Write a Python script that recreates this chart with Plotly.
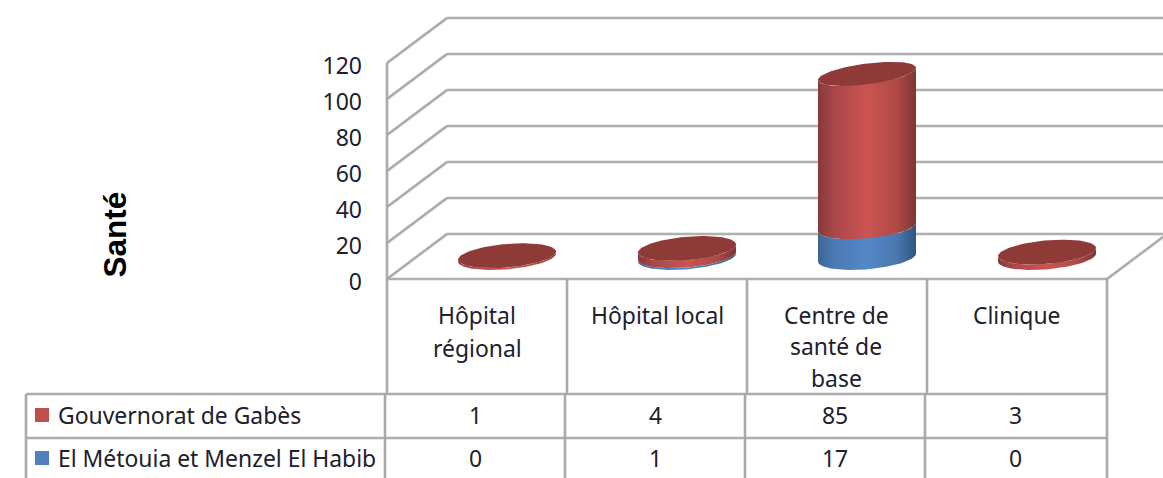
import numpy as np
import plotly.graph_objects as go

# ---- data ----
category_lines = [["Hôpital", "régional"], ["Hôpital local"], ["Centre de", "santé de", "base"], ["Clinique"]]
series_names = ["Gouvernorat de Gabès", "El Métouia et Menzel El Habib"]
gabes = [1, 4, 85, 3]
metouia = [0, 1, 17, 0]
y_ticks = [0, 20, 40, 60, 80, 100, 120]

# ---- page geometry (pixels) ----
W, H = 1163, 478
PX_PER_UNIT = 1.8
FRONT_ZERO = 279     # value 0 on the front plane
FLOOR_ZERO = 257.5   # value 0 at the centre of the floor
CAT_STEP = 180
CAT0_X = 507
FRONT_L, FRONT_R = 387, 1107
DX, DY = 60, 45      # depth offset of the back wall
GRID = "#a4a4a4"
HALO = "#d2d2d2"
TABLE = "#a0a0a0"
TXT = "#20202c"
FONT = "Noto Sans"
RED = "#c0504d"
BLUE = "#4f81bd"
RED_TOP = "#8e3a37"
RED_SCALE = [[0, "#86393a"], [0.16, "#a8474a"], [0.5, "#cb5450"], [0.8, "#b04a47"], [1, "#7e3533"]]
BLUE_SCALE = [[0, "#3d6593"], [0.16, "#4a79b3"], [0.5, "#5588c8"], [0.8, "#4a78ae"], [1, "#2f5680"]]
A_X = 49 / CAT_STEP          # cylinder half width in category units


def shear(v):
    # ellipse tilt (value units) grows slightly with height, as in the perspective view
    return (4 + 2.4 * v / 120) / PX_PER_UNIT


def minor(v):
    # ellipse depth (value units) shrinks slightly with height
    return (11.8 - 1.65 * v / 120) / PX_PER_UNIT


def fx(p):
    return p / W


def fy(p):
    return 1 - p / H


fig = go.Figure()
positions = list(range(len(gabes)))
totals = [g + m for g, m in zip(gabes, metouia)]

# Invisible anchor so the tick axis (front plane) is drawn.
fig.add_trace(go.Scatter(x=positions, y=totals, mode="markers", marker=dict(opacity=0), yaxis="y",
                         showlegend=False, hoverinfo="skip", name="Total"))

# Real stacked bars (on the floor axis); the curved skins sit on them.
for name, vals, col in [(series_names[1], metouia, BLUE), (series_names[0], gabes, RED)]:
    fig.add_trace(go.Bar(x=positions, y=vals, name=name, marker=dict(color=col, line_width=0),
                         width=0.3, yaxis="y2", showlegend=False))

t_front = np.linspace(np.pi, 0, 60)
t_all = np.linspace(0, 2 * np.pi, 90)


def rim(v, t):
    return v + shear(v) * np.cos(t) - minor(v) * np.sin(t)


def side(i, v0, v1, scale, name):
    xs = i + A_X * np.cos(t_front)
    x = np.concatenate([xs, xs[::-1]])
    y = np.concatenate([rim(v0, t_front), rim(v1, t_front)[::-1]])
    fig.add_trace(go.Scatter(x=x, y=y, mode="lines", line=dict(width=0), fill="toself",
                             fillgradient=dict(type="horizontal", colorscale=scale),
                             yaxis="y2", showlegend=False, hoverinfo="skip", name=name))


def cap(i, v, col, name):
    x = i + A_X * np.cos(t_all)
    fig.add_trace(go.Scatter(x=x, y=rim(v, t_all), mode="lines", line=dict(width=0, color=col), fill="toself",
                             fillcolor=col, yaxis="y2", showlegend=False, hoverinfo="skip", name=name))


for i, (g, m) in enumerate(zip(gabes, metouia)):
    if m > 0:
        side(i, 0, m, BLUE_SCALE, series_names[1])
    side(i, m, m + g, RED_SCALE, series_names[0])
    cap(i, m + g, RED_TOP, series_names[0])

# ---- walls and gridlines ----
halo_shapes, core_shapes = [], []


def line(x0, y0, x1, y1, color=GRID, width=1.6):
    base = dict(type="line", xref="paper", yref="paper", x0=fx(x0), y0=fy(y0), x1=fx(x1), y1=fy(y1), layer="below")
    halo_shapes.append(dict(base, line=dict(color=HALO, width=width + 1.6)))
    core_shapes.append(dict(base, line=dict(color=color, width=width)))


for v in y_ticks:
    yf = FRONT_ZERO - v * PX_PER_UNIT
    line(FRONT_L, yf, FRONT_L + DX, yf - DY)
    line(FRONT_L + DX, yf - DY, W, yf - DY)
line(FRONT_L, FRONT_ZERO - max(y_ticks) * PX_PER_UNIT, FRONT_L, FRONT_ZERO)
line(FRONT_L, FRONT_ZERO, FRONT_R, FRONT_ZERO)
line(FRONT_R, FRONT_ZERO, FRONT_R + DX, FRONT_ZERO - DY)

# ---- data table ----
ROW_TOPS = [394, 438, H]
HEAD_X = [387, 567, 747, 927, 1107]
ROW_X = [26, 385, 565, 745, 925, 1107]
for x in HEAD_X:
    line(x, FRONT_ZERO, x, ROW_TOPS[0], TABLE)
for x in ROW_X:
    line(x, ROW_TOPS[0], x, H, TABLE)
for y in ROW_TOPS[:2]:
    line(ROW_X[0], y, ROW_X[-1], y, TABLE)
shapes = halo_shapes + core_shapes
for (top, col) in [(408, RED), (451, BLUE)]:
    shapes.append(dict(type="rect", xref="paper", yref="paper", x0=fx(35), x1=fx(49), y0=fy(top), y1=fy(top + 14),
                       fillcolor=col, line_width=0))

ann = []


def text(s, x, y, size=22.9, anchor="center", **kw):
    ann.append(dict(text=s, xref="paper", yref="paper", x=fx(x), y=fy(y), xanchor=anchor, yanchor="middle",
                    showarrow=False, font=dict(family=kw.pop("family", FONT), size=size, color=kw.pop("color", TXT)), **kw))


HEAD_LINE_Y = [[315, 348], [315], [315, 346, 378], [315]]
HEAD_CX = [477, 657, 836, 1016]
VAL_CX = [475, 655, 835, 1015]
for lines, ys, cx in zip(category_lines, HEAD_LINE_Y, HEAD_CX):
    for s, y in zip(lines, ys):
        text(s, cx, y)
for name, vals, y in [(series_names[0], gabes, 415), (series_names[1], metouia, 458)]:
    text(name, 56, y, anchor="left")
    for v, cx in zip(vals, VAL_CX):
        text(str(v), cx, y)
text("Santé", 114, 234.5, size=31.5, family="Liberation Sans", color="#000000", textangle=-90)
ann[-1]["font"]["weight"] = "bold"

fig.update_layout(
    width=W, height=H, autosize=False, margin=dict(l=0, r=0, t=0, b=0),
    paper_bgcolor="white", plot_bgcolor="rgba(0,0,0,0)",
    barmode="stack", bargap=0, shapes=shapes, annotations=ann, showlegend=False,
    xaxis=dict(range=[-CAT0_X / CAT_STEP, (W - CAT0_X) / CAT_STEP], domain=[0, 1], visible=False, fixedrange=True),
    yaxis=dict(range=[(FRONT_ZERO - H) / PX_PER_UNIT, FRONT_ZERO / PX_PER_UNIT], domain=[0, 1],
               anchor="free", position=FRONT_L / W, side="left",
               tickmode="array", tickvals=y_ticks, ticktext=[str(v) for v in y_ticks],
               showgrid=False, zeroline=False, showline=False, ticks="",
               ticklabelstandoff=25, ticklabelshift=3,
               tickfont=dict(family=FONT, size=23, color=TXT), fixedrange=True),
    yaxis2=dict(range=[(FLOOR_ZERO - H) / PX_PER_UNIT, FLOOR_ZERO / PX_PER_UNIT], domain=[0, 1],
                overlaying="y", visible=False, fixedrange=True),
)

fig.write_html("out.html", config={"displayModeBar": False},
               post_script="document.body.style.margin='0';document.body.style.overflow='hidden';")
